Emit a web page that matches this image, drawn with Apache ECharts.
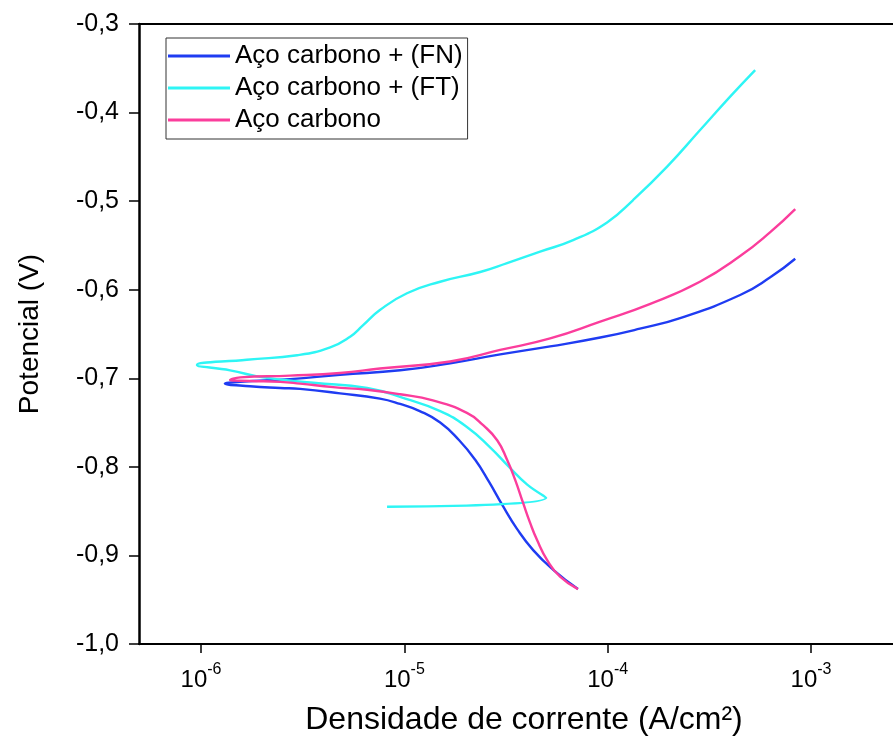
<!DOCTYPE html>
<html>
<head>
<meta charset="utf-8">
<script src="https://cdn.jsdelivr.net/npm/echarts@6/dist/echarts.min.js"></script>
<style>
  html, body { margin: 0; padding: 0; background: #fff; }
  #chart { width: 893px; height: 742px; }
</style>
</head>
<body>
<div id="chart"></div>
<script>
// Tafel polarization curves: current density (A/cm²) vs potential (V)
const seriesNames = ['Aço carbono + (FN)', 'Aço carbono + (FT)', 'Aço carbono'];

// Aço carbono + (FN): cathodic branch, then anodic branch
const fnCurrent = [7.14e-5, 5.38e-5, 4.30e-5, 3.58e-5, 3.03e-5, 2.61e-5, 2.23e-5, 1.86e-5, 1.50e-5, 1.19e-5,
  9.53e-6, 7.58e-6, 4.83e-6, 3.07e-6, 2.45e-6, 1.74e-6, 1.31e-6,
  1.56e-6, 2.74e-6, 4.83e-6, 9.53e-6, 1.68e-5, 2.96e-5, 5.21e-5, 9.19e-5, 1.44e-4, 2.27e-4, 4.48e-4, 6.30e-4, 8.36e-4];
const fnPotential = [-0.938, -0.916, -0.894, -0.870, -0.843, -0.817, -0.792, -0.770, -0.750, -0.737,
  -0.729, -0.723, -0.717, -0.712, -0.711, -0.709, -0.706,
  -0.704, -0.701, -0.696, -0.691, -0.683, -0.673, -0.664, -0.654, -0.644, -0.632, -0.606, -0.586, -0.565];

// Aço carbono + (FT)
const ftCurrent = [8.22e-6, 4.98e-5, 4.02e-5, 3.27e-5, 2.64e-5, 2.03e-5, 1.50e-5, 1.01e-5, 6.56e-6, 3.56e-6,
  2.02e-6, 1.39e-6, 9.55e-7, 1.68e-6, 2.97e-6, 4.32e-6, 5.41e-6, 6.27e-6, 7.58e-6, 1.03e-5,
  1.50e-5, 2.36e-5, 3.20e-5, 4.65e-5, 6.76e-5, 9.93e-5, 1.33e-4, 1.96e-4, 2.84e-4, 4.00e-4, 5.31e-4];
const ftPotential = [-0.845, -0.835, -0.820, -0.800, -0.778, -0.755, -0.737, -0.723, -0.711, -0.705,
  -0.699, -0.691, -0.685, -0.679, -0.674, -0.665, -0.653, -0.640, -0.623, -0.604,
  -0.591, -0.580, -0.570, -0.557, -0.544, -0.524, -0.499, -0.461, -0.420, -0.382, -0.352];

// Aço carbono
const acCurrent = [7.14e-5, 5.83e-5, 5.03e-5, 4.50e-5, 4.15e-5, 3.84e-5, 3.51e-5, 3.20e-5, 2.86e-5, 2.44e-5,
  2.03e-5, 1.38e-5, 9.53e-6, 6.56e-6, 4.46e-6, 3.07e-6, 2.45e-6, 1.74e-6, 1.39e-6,
  1.56e-6, 2.74e-6, 4.83e-6, 7.58e-6, 1.68e-5, 2.96e-5, 5.21e-5, 9.19e-5, 1.62e-4, 2.84e-4, 4.48e-4, 6.30e-4, 8.36e-4];
const acPotential = [-0.938, -0.924, -0.905, -0.883, -0.863, -0.841, -0.815, -0.792, -0.770, -0.753,
  -0.739, -0.725, -0.718, -0.713, -0.710, -0.706, -0.704, -0.703, -0.702,
  -0.699, -0.697, -0.694, -0.689, -0.681, -0.668, -0.655, -0.636, -0.616, -0.591, -0.562, -0.535, -0.509];

const xTicks = [1e-6, 1e-5, 1e-4, 1e-3];
const xMin = Math.pow(10, -6.305);
const xMax = Math.pow(10, -2.597);
const yRange = { min: -1.0, max: -0.3, step: 0.1 };

const colors = ['#1f3cf2', '#2ef5f5', '#fb3d9c'];

function pairs(xs, ys) { return xs.map((x, i) => [x, ys[i]]); }

const font = 'Liberation Sans, Arial, sans-serif';

const chart = echarts.init(document.getElementById('chart'), null, { renderer: 'canvas' });

function lineSeries(name, xs, ys, color) {
  return {
    name: name,
    type: 'line',
    data: pairs(xs, ys),
    symbol: 'none',
    smooth: 0.5,
    lineStyle: { color: color, width: 2.4 },
    itemStyle: { color: color },
    emphasis: { disabled: true },
    animation: false
  };
}

chart.setOption({
  backgroundColor: '#fff',
  animation: false,
  grid: { left: 139, top: 24, right: 0, bottom: 98, containLabel: false },
  legend: {
    orient: 'vertical',
    left: 166,
    top: 38,
    data: seriesNames,
    icon: 'rect',
    itemWidth: 62,
    itemHeight: 3,
    itemGap: 2,
    padding: [3, 5, 4, 2],
    borderColor: '#333',
    borderWidth: 1,
    textStyle: { fontFamily: font, fontSize: 26, color: '#000', lineHeight: 30 }
  },
  xAxis: [{
    type: 'log',
    logBase: 10,
    min: xMin,
    max: xMax,
    name: 'Densidade de corrente (A/cm²)',
    nameLocation: 'middle',
    nameGap: 60,
    nameTextStyle: { fontFamily: font, fontSize: 32, color: '#000', padding: [0, 0, 0, 16] },
    axisLine: { show: true, onZero: false, lineStyle: { color: '#000', width: 2 } },
    axisTick: { show: true, inside: false, length: 9, customValues: xTicks, lineStyle: { color: '#000', width: 1.5 } },
    minorTick: { show: false },
    splitLine: { show: false },
    axisLabel: {
      customValues: xTicks,
      margin: 18,
      formatter: function (v) {
        const e = Math.round(Math.log10(v));
        return '{b|10}{e|' + e + '}';
      },
      rich: {
        b: { fontFamily: font, fontSize: 24, color: '#000', verticalAlign: 'bottom', lineHeight: 30 },
        e: { fontFamily: font, fontSize: 16, color: '#000', verticalAlign: 'top', lineHeight: 30 }
      }
    }
  }, {
    type: 'log',
    logBase: 10,
    position: 'top',
    min: xMin,
    max: xMax,
    axisLine: { show: true, onZero: false, lineStyle: { color: '#000', width: 2 } },
    axisTick: { show: false },
    axisLabel: { show: false },
    splitLine: { show: false }
  }],
  yAxis: {
    type: 'value',
    min: yRange.min,
    max: yRange.max,
    interval: yRange.step,
    name: 'Potencial (V)',
    nameLocation: 'middle',
    nameGap: 95,
    nameTextStyle: { fontFamily: font, fontSize: 28, color: '#000' },
    axisLine: { show: true, onZero: false, lineStyle: { color: '#000', width: 2.5 } },
    axisTick: { show: true, inside: false, length: 10, lineStyle: { color: '#000', width: 1.5 } },
    splitLine: { show: false },
    axisLabel: {
      margin: 20,
      fontFamily: font,
      fontSize: 25,
      color: '#000',
      formatter: function (v) { return v.toFixed(1).replace('.', ','); }
    }
  },
  series: [
    lineSeries(seriesNames[0], fnCurrent, fnPotential, colors[0]),
    lineSeries(seriesNames[1], ftCurrent, ftPotential, colors[1]),
    lineSeries(seriesNames[2], acCurrent, acPotential, colors[2])
  ]
});
</script>
</body>
</html>
